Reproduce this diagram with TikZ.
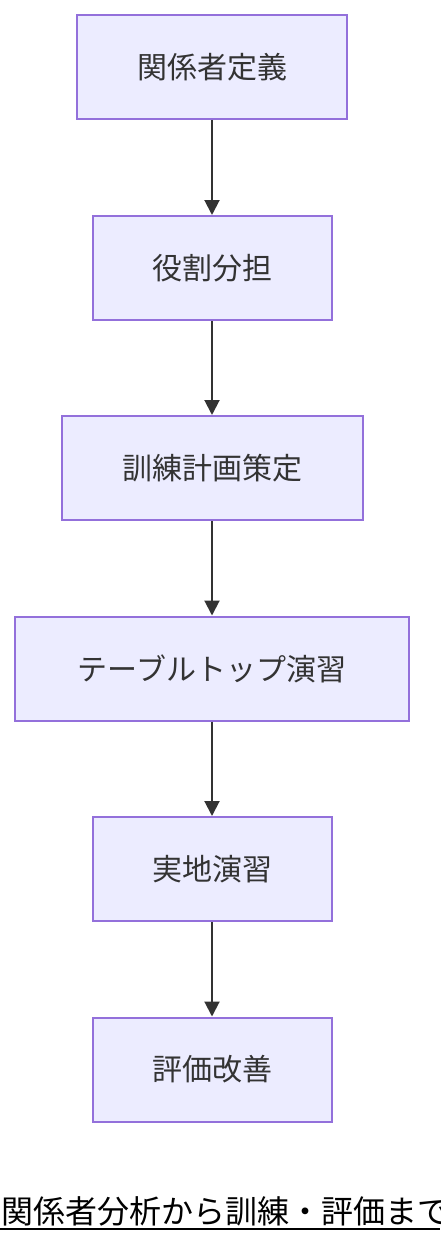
\documentclass[tikz,border=0pt]{standalone}
\usepackage{fontspec}
\usepackage{xcolor}
\usetikzlibrary{arrows.meta}
\setmainfont{Noto Sans CJK JP}
\definecolor{boxfill}{HTML}{ECECFF}
\definecolor{boxline}{HTML}{9370DB}
\definecolor{arrowline}{HTML}{333333}
\tikzset{
    flow-box/.style = {draw=boxline, fill=boxfill, line width=2pt, rectangle, minimum height=104pt, inner sep=0pt, font=\fontsize{30}{34}\selectfont, text=arrowline},
    flow-arrow/.style = {draw=arrowline, line width=2pt, -{Triangle[length=15pt,width=15pt]}},
}

\begin{document}
\begin{tikzpicture}[x=1pt, y=-1pt]
\useasboundingbox (0,0) rectangle (440,1244);
\node [flow-box, minimum width=270pt] (stakeholders) at (212,67) {関係者定義};
\node [flow-box, minimum width=239pt] (roles) at (212,268) {役割分担};
\node [flow-box, minimum width=301pt] (plan) at (212,468) {訓練計画策定};
\node [flow-box, minimum width=394pt] (tabletop) at (212,668.5) {テーブルトップ演習};
\node [flow-box, minimum width=239pt] (field) at (212,869) {実地演習};
\node [flow-box, minimum width=239pt] (review) at (212,1069.5) {評価改善};
\draw [flow-arrow] (stakeholders) -- (roles);
\draw [flow-arrow] (roles) -- (plan);
\draw [flow-arrow] (plan) -- (tabletop);
\draw [flow-arrow] (tabletop) -- (field);
\draw [flow-arrow] (field) -- (review);
% caption, cut at the right edge
\node [anchor=base west, inner sep=0pt, font=\fontsize{32}{36}\selectfont] (caption) at (1,1223) {関係者分析から訓練・評価まで};
\draw [line width=2.5pt] (0,1229) -- (440,1229);
\end{tikzpicture}
\end{document}
